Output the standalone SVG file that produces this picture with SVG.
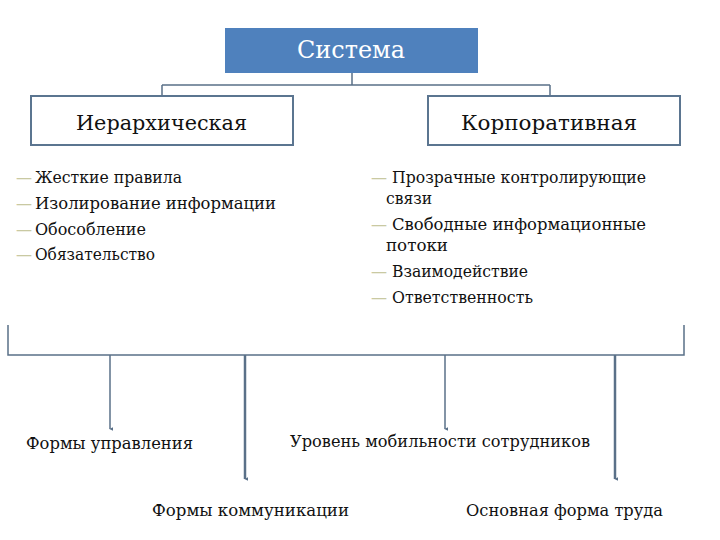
<svg xmlns="http://www.w3.org/2000/svg" width="720" height="540" viewBox="0 0 720 540">
<defs>
<style>
text{font-family:'DejaVu Serif','Liberation Serif',serif}
.t{fill:#111}
.box{fill:#fff;stroke:#5b7590;stroke-width:2}
.ln{fill:none;stroke:#5a7088;stroke-width:1.5}
.lnb{fill:none;stroke:#5a7088;stroke-width:2.5}
.dash{fill:#c9c9a2;font-size:16px}
.li{font-size:16px}
.lb{font-size:17px}
</style>
<marker id="ah" viewBox="0 0 6 6" refX="3" refY="5" markerWidth="4" markerHeight="4" orient="auto-start-reverse" markerUnits="userSpaceOnUse">
<path d="M0,0 L6,0 L3,6 z" fill="#5a7088"/>
</marker>
</defs>
<rect width="720" height="540" fill="#fff"/>
<g id="connectors">
<path class="ln" d="M352,73 V85 M162,85 H550 M162,85 V96 M550,85 V96"/>
<path class="ln" d="M8,325 V355 H684 V325"/>
<path class="ln" d="M110,355 V429" marker-end="url(#ah)"/>
<path class="lnb" d="M245,355 V479" marker-end="url(#ah)"/>
<path class="ln" d="M445,355 V429" marker-end="url(#ah)"/>
<path class="lnb" d="M615,355 V479" marker-end="url(#ah)"/>
</g>
<g>
<g id="sistema">
<rect x="225" y="28" width="253" height="45" fill="#4f81bd"/>
<text x="297" y="58" font-size="24" fill="#fff" textLength="108" lengthAdjust="spacingAndGlyphs">Система</text>
</g>
<g id="ierarh">
<rect class="box" x="31" y="96" width="262" height="49"/>
<text class="t" x="76" y="130" font-size="21" textLength="171" lengthAdjust="spacingAndGlyphs">Иерархическая</text>
</g>
<g id="korp">
<rect class="box" x="428" y="96" width="252" height="49"/>
<text class="t" x="461" y="130" font-size="21" textLength="176" lengthAdjust="spacingAndGlyphs">Корпоративная</text>
</g>
<g id="left-list">
<text class="dash" x="16" y="183">—</text><text class="t li" x="35" y="183" textLength="147" lengthAdjust="spacingAndGlyphs">Жесткие правила</text>
<text class="dash" x="16" y="209">—</text><text class="t li" x="35" y="209" textLength="241" lengthAdjust="spacingAndGlyphs">Изолирование информации</text>
<text class="dash" x="16" y="235">—</text><text class="t li" x="35" y="235" textLength="111" lengthAdjust="spacingAndGlyphs">Обособление</text>
<text class="dash" x="16" y="260">—</text><text class="t li" x="35" y="260" textLength="120" lengthAdjust="spacingAndGlyphs">Обязательство</text>
</g>
<g id="right-list">
<text class="dash" x="371" y="183">—</text><text class="t li" x="392" y="183" textLength="254" lengthAdjust="spacingAndGlyphs">Прозрачные контролирующие</text>
<text class="t li" x="386" y="204" textLength="46" lengthAdjust="spacingAndGlyphs">связи</text>
<text class="dash" x="371" y="230">—</text><text class="t li" x="392" y="230" textLength="254" lengthAdjust="spacingAndGlyphs">Свободные информационные</text>
<text class="t li" x="386" y="251" textLength="62" lengthAdjust="spacingAndGlyphs">потоки</text>
<text class="dash" x="371" y="277">—</text><text class="t li" x="392" y="277" textLength="136" lengthAdjust="spacingAndGlyphs">Взаимодействие</text>
<text class="dash" x="371" y="303">—</text><text class="t li" x="392" y="303" textLength="141" lengthAdjust="spacingAndGlyphs">Ответственность</text>
</g>
<g id="formy-upr"><text class="t lb" x="26" y="449" textLength="167" lengthAdjust="spacingAndGlyphs">Формы управления</text></g>
<g id="uroven"><text class="t lb" x="290" y="447" textLength="300" lengthAdjust="spacingAndGlyphs">Уровень мобильности сотрудников</text></g>
<g id="formy-kom"><text class="t lb" x="152" y="516" textLength="197" lengthAdjust="spacingAndGlyphs">Формы коммуникации</text></g>
<g id="osn-forma"><text class="t lb" x="466" y="516" textLength="197" lengthAdjust="spacingAndGlyphs">Основная форма труда</text></g>
</g>
</svg>
